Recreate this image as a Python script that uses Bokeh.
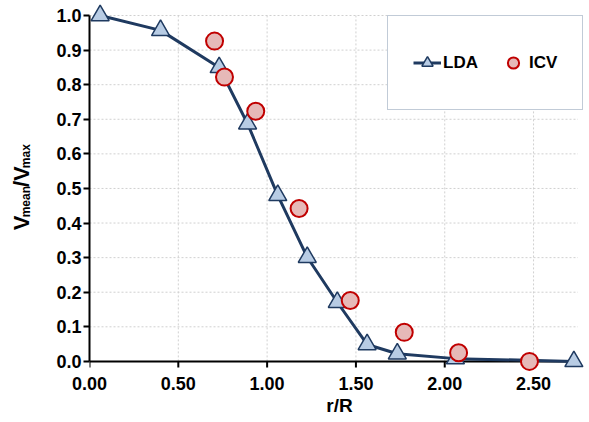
import math
from bokeh.plotting import figure
from bokeh.layouts import row
from bokeh.models import (Range1d, FixedTicker, NumeralTickFormatter, Legend, LegendItem,
                          ColumnDataSource)
from bokeh.core.properties import value
from bokeh.embed import file_html
from bokeh.resources import INLINE

# ---- data ----
lda_x = [0.06, 0.40, 0.73, 0.89, 1.06, 1.226, 1.395, 1.563, 1.733, 2.06, 2.727]
lda_y = [1.00, 0.957, 0.85, 0.687, 0.48, 0.301, 0.171, 0.049, 0.022, 0.008, 0.0]
icv_x = [0.704, 0.76, 0.936, 1.18, 1.468, 1.772, 2.078, 2.477]
icv_y = [0.926, 0.822, 0.723, 0.442, 0.176, 0.084, 0.025, 0.0]
x_ticks = [0.0, 0.5, 1.0, 1.5, 2.0, 2.5]
y_ticks = [0.0, 0.1, 0.2, 0.3, 0.4, 0.5, 0.6, 0.7, 0.8, 0.9, 1.0]
x_max = 2.75
y_max = 1.0
x_title = "r/R"
y_title_parts = ["V", "mean", "/V", "max"]

FONT = "Liberation Sans"

# ---- main plot ----
p = figure(width=549, height=422, output_backend="svg", toolbar_location=None,
           x_range=Range1d(0, 2.815), y_range=Range1d(-0.035, 1.0434),
           min_border_left=49, min_border_right=0, min_border_top=0, min_border_bottom=49)
p.outline_line_color = None
p.background_fill_color = "white"
p.border_fill_color = "white"
p.grid.visible = False

# grid lines (dotted) from the tick lists
vx = [t for t in x_ticks if t > 0]
p.segment(x0=vx, y0=[0] * len(vx), x1=vx, y1=[y_max] * len(vx),
          line_color="#d0d0d0", line_width=1, line_dash="2 2")
hy = [t for t in y_ticks if t > 0]
p.segment(x0=[0] * len(hy), y0=hy, x1=[x_max] * len(hy), y1=hy,
          line_color="#d0d0d0", line_width=1, line_dash="2 2")

# x axis line and ticks at y = 0
p.segment(x0=[0], y0=[0], x1=[x_max], y1=[0], line_color="black", line_width=2)
p.segment(x0=x_ticks, y0=[0] * len(x_ticks), x1=x_ticks, y1=[-0.018] * len(x_ticks),
          line_color="black", line_width=2)

xa = p.xaxis[0]
xa.ticker = FixedTicker(ticks=x_ticks)
xa.formatter = NumeralTickFormatter(format="0.00")
xa.axis_line_color = None
xa.major_tick_line_color = None
xa.major_tick_out = 0
xa.major_tick_in = 0
xa.minor_tick_line_color = None
xa.major_label_standoff = 3
xa.axis_label = x_title
xa.axis_label_standoff = 2
xa.axis_label_text_font = FONT
xa.axis_label_text_font_style = "bold"
xa.axis_label_text_font_size = "19px"
xa.axis_label_text_color = "black"

ya = p.yaxis[0]
ya.bounds = (0, y_max)
ya.ticker = FixedTicker(ticks=y_ticks)
ya.formatter = NumeralTickFormatter(format="0.0")
ya.axis_line_color = "black"
ya.axis_line_width = 2
ya.major_tick_line_color = "black"
ya.major_tick_line_width = 2
ya.major_tick_out = 6
ya.major_tick_in = 0
ya.minor_tick_line_color = None
ya.major_label_standoff = 2

for ax in (xa, ya):
    ax.major_label_text_font = FONT
    ax.major_label_text_font_style = "bold"
    ax.major_label_text_font_size = "18px"
    ax.major_label_text_color = "black"

# series
src_l = ColumnDataSource(dict(x=lda_x, y=lda_y))
src_i = ColumnDataSource(dict(x=icv_x, y=icv_y))
line_r = p.line("x", "y", source=src_l, line_color="#1f3a60", line_width=3)
tri_r = p.scatter("x", "y", source=src_l, marker="triangle", size=18,
                  fill_color="#b8cce4", line_color="#1f3a60", line_width=1.5)
circ_r = p.scatter("x", "y", source=src_i, marker="circle", size=17,
                   fill_color="#e6b9b8", line_color="#c00000", line_width=2)

legend = Legend(items=[LegendItem(label="LDA", renderers=[line_r, tri_r]),
                       LegendItem(label="ICV", renderers=[circ_r])],
                orientation="horizontal", location=(298, 263),
                glyph_width=28, glyph_height=43, label_height=43,
                label_standoff=2, spacing=21, padding=25, margin=0,
                border_line_color="#8497b0", border_line_width=1.5,
                background_fill_color="white", background_fill_alpha=1,
                label_text_font=FONT, label_text_font_style="bold",
                label_text_font_size="17px", label_text_color="black")
p.add_layout(legend, "center")

# ---- y-axis title panel (V_mean / V_max, rotated) ----
q = figure(width=40, height=422, output_backend="svg", toolbar_location=None,
           x_range=Range1d(0, 40), y_range=Range1d(0, 422),
           x_axis_location=None, y_axis_location=None,
           min_border_left=0, min_border_right=0, min_border_top=0, min_border_bottom=0)
q.grid.visible = False
q.outline_line_color = None
q.background_fill_color = "white"
q.border_fill_color = "white"
# positions in this panel's pixel frame
t_x = [21, 25, 21, 25]
t_y = [162, 176.7, 211.0, 232.3]
t_size = ["22px", "12px", "22px", "12px"]
q.text(x=t_x, y=t_y, text=y_title_parts, angle=math.pi / 2, text_align="left",
       text_baseline="alphabetic", text_font=value(FONT), text_font_style="bold",
       text_font_size=t_size, text_color="black")

layout = row(q, p, spacing=0)
open("out.html", "w").write(file_html(layout, INLINE))
